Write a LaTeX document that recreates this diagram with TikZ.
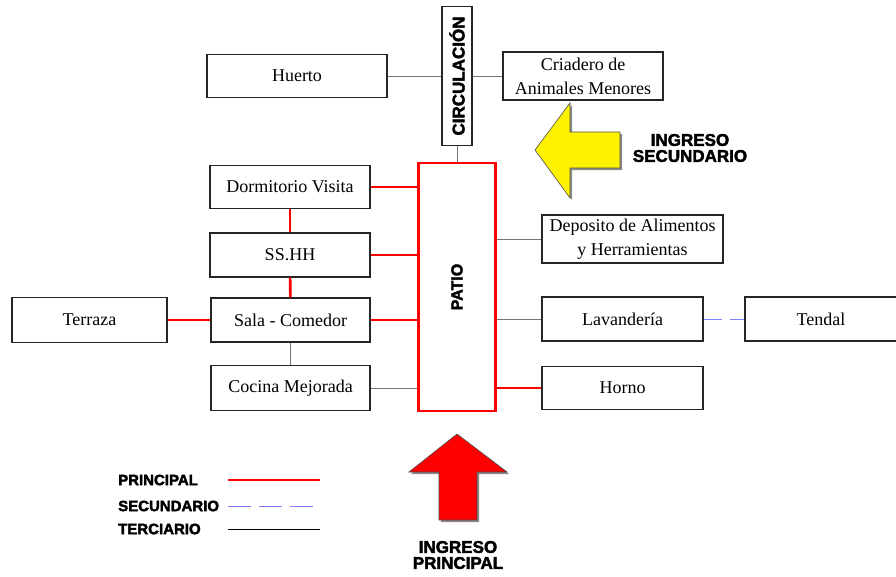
\documentclass[tikz,border=0pt]{standalone}
\usepackage{graphicx}
\usepackage{fontspec}
\setmainfont{Liberation Serif}
\setsansfont{Liberation Sans}
\newfontfamily\gruesa{Liberation Sans}[FakeBold=2.5]
\definecolor{azulclaro}{RGB}{125,125,255}
\tikzset{
ambiente/.style={draw=black!85, line width=1.3pt, fill=white, inner sep=1pt, align=center,
  font=\fontsize{18}{24}\selectfont},
rotulo/.style={font=\gruesa\bfseries\fontsize{17}{16}\selectfont, align=center, inner sep=0pt},
leyenda/.style={font=\gruesa\bfseries\fontsize{15}{15}\selectfont, anchor=west, inner sep=0pt},
principal/.style={red, line width=2.6pt},
secundario/.style={azulclaro, line width=1pt, dash pattern=on 18pt off 8pt},
terciario/.style={black!55, line width=1pt},
ingreso/.style={draw=black!70, line width=.6pt}
}
\begin{document}
\begin{tikzpicture}[x=1pt,y=-1pt]
\useasboundingbox (0,0) rectangle (896,576);

% circulacion y ambientes de arriba
\node[ambiente, minimum width=30, minimum height=139, inner sep=0pt, font=\gruesa\bfseries\fontsize{17}{17}\selectfont] (circ) at (457,76) {\rotatebox{90}{CIRCULACIÓN}};
\node[ambiente, minimum width=180, minimum height=43] (huerto) at (297,76) {Huerto};
\node[ambiente, minimum width=160, minimum height=48] (criadero) at (583,76) {Criadero de\\Animales Menores};

% patio
\node[draw=red, line width=2.5pt, minimum width=77, minimum height=248, inner sep=0pt,
  font=\gruesa\bfseries\fontsize{16}{16}\selectfont] (patio) at (457,287) {\rotatebox{90}{PATIO}};

% lado izquierdo
\node[ambiente, minimum width=160, minimum height=43] (dorm) at (290,187) {Dormitorio Visita};
\node[ambiente, minimum width=160, minimum height=44] (sshh) at (290,255) {SS.HH};
\node[ambiente, minimum width=159, minimum height=44] (sala) at (290.5,320) {Sala - Comedor};
\node[ambiente, minimum width=159, minimum height=45] (cocina) at (290.5,388) {Cocina Mejorada};
\node[ambiente, minimum width=155, minimum height=45] (terraza) at (89.5,320) {Terraza};

% lado derecho
\node[ambiente, minimum width=181, minimum height=48] (deposito) at (632.5,239) {Deposito de Alimentos\\y Herramientas};
\node[ambiente, minimum width=161, minimum height=44] (lavanderia) at (622.5,319) {Lavandería};
\node[ambiente, minimum width=152, minimum height=44] (tendal) at (821,319) {Tendal};
\node[ambiente, minimum width=161, minimum height=43] (horno) at (622.5,388) {Horno};

% relaciones
\draw[terciario] (huerto) -- (circ);
\draw[terciario] (circ) -- (criadero);
\draw[terciario] (circ) -- (patio);
\draw[principal] (dorm) -- (sshh);
\draw[principal] (sshh) -- (sala);
\draw[terciario] (sala) -- (cocina);
\draw[principal] (terraza) -- (sala);
\draw[principal] (dorm.east) -- (dorm.east -| patio.west);
\draw[principal] (sshh.east) -- (sshh.east -| patio.west);
\draw[principal] (sala.east) -- (sala.east -| patio.west);
\draw[terciario] (cocina.east) -- (cocina.east -| patio.west);
\draw[terciario] (deposito.west -| patio.east) -- (deposito.west);
\draw[terciario] (lavanderia.west -| patio.east) -- (lavanderia.west);
\draw[principal] (horno.west -| patio.east) -- (horno.west);
\draw[secundario] (lavanderia) -- (tendal);

% flechas de ingreso
\fill[black!45] (537,152) -- (572,105) -- (572,134) -- (622,134) -- (622,170) -- (572,170) -- (572,200) -- cycle;
\draw[ingreso, fill=yellow] (535,150) -- (570,103) -- (570,132) -- (620,132) -- (620,168) -- (570,168) -- (570,198) -- cycle;
\node[rotulo] (ingsec) at (690,148) {INGRESO\\SECUNDARIO};

\fill[black!45] (459,436) -- (509,474) -- (479,474) -- (479,522) -- (441,522) -- (441,474) -- (411,474) -- cycle;
\draw[ingreso, fill=red] (457,434) -- (507,472) -- (477,472) -- (477,520) -- (439,520) -- (439,472) -- (409,472) -- cycle;
\node[rotulo] (ingpri) at (458,555) {INGRESO\\PRINCIPAL};

% leyenda
\node[leyenda] (lprin) at (118,480) {PRINCIPAL};
\node[leyenda] (lsec) at (118,506) {SECUNDARIO};
\node[leyenda] (lter) at (118,529) {TERCIARIO};
\coordinate (a1) at (228,480); \coordinate (b1) at (320,480);
\coordinate (a2) at (228,506); \coordinate (b2) at (320,506);
\coordinate (a3) at (228,529); \coordinate (b3) at (320,529);
\draw[principal] (a1) -- (b1);
\draw[secundario, dash pattern=on 23pt off 8pt] (a2) -- (b2);
\draw[black, line width=1pt] (a3) -- (b3);
\end{tikzpicture}
\end{document}
